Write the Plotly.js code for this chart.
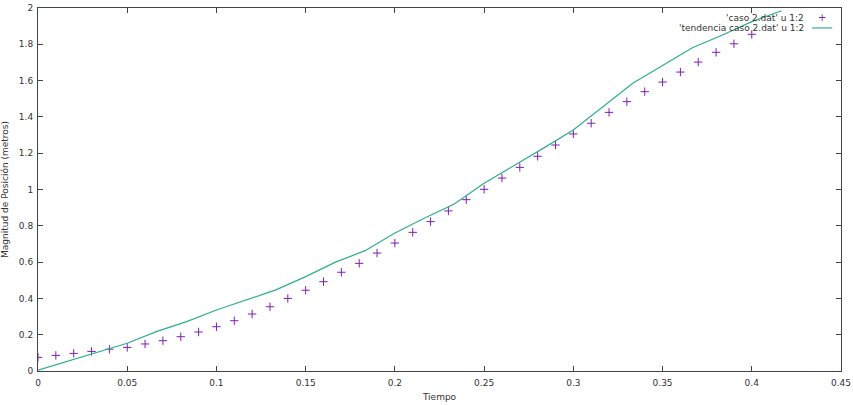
<!DOCTYPE html>
<html>
<head>
<meta charset="utf-8">
<script src="https://cdn.plot.ly/plotly-3.0.1.min.js"></script>
<style>html,body{margin:0;padding:0;background:#fff;}#chart{width:853px;height:405px;}</style>
</head>
<body>
<div id="chart"></div>
<script>
// Measured data: 'caso 2.dat'
const tiempo = [0, 0.01, 0.02, 0.03, 0.04, 0.05, 0.06, 0.07, 0.08, 0.09,
  0.10, 0.11, 0.12, 0.13, 0.14, 0.15, 0.16, 0.17, 0.18, 0.19,
  0.20, 0.21, 0.22, 0.23, 0.24, 0.25, 0.26, 0.27, 0.28, 0.29,
  0.30, 0.31, 0.32, 0.33, 0.34, 0.35, 0.36, 0.37, 0.38, 0.39, 0.40];
const posicion = [0.075, 0.086, 0.097, 0.108, 0.12, 0.13, 0.149, 0.167, 0.189, 0.215,
  0.244, 0.277, 0.314, 0.354, 0.40, 0.445, 0.492, 0.544, 0.593, 0.65,
  0.705, 0.764, 0.823, 0.882, 0.944, 1.001, 1.063, 1.122, 1.183, 1.245,
  1.306, 1.365, 1.425, 1.484, 1.539, 1.592, 1.647, 1.702, 1.756, 1.803, 1.855];

// Trend line: 'tendencia caso 2.dat'
const tendTiempo = [0, 0.0167, 0.0333, 0.05, 0.0667, 0.0833, 0.1, 0.1167, 0.1333, 0.15,
  0.1667, 0.1833, 0.2, 0.2167, 0.2333, 0.25, 0.2667, 0.2833, 0.3, 0.3167,
  0.3333, 0.35, 0.3667, 0.3833, 0.4, 0.4167];
const tendPosicion = [0.005, 0.055, 0.105, 0.153, 0.218, 0.272, 0.336, 0.39, 0.447, 0.52,
  0.6, 0.663, 0.76, 0.843, 0.92, 1.034, 1.13, 1.228, 1.328, 1.455,
  1.585, 1.683, 1.781, 1.85, 1.925, 1.985];

const xTicks = [0, 0.05, 0.1, 0.15, 0.2, 0.25, 0.3, 0.35, 0.4, 0.45];
const xTickText = ['0', '0.05', '0.1', '0.15', '0.2', '0.25', '0.3', '0.35', '0.4', '0.45'];
const yTicks = [0, 0.2, 0.4, 0.6, 0.8, 1, 1.2, 1.4, 1.6, 1.8, 2];
const yTickText = ['0', '0.2', '0.4', '0.6', '0.8', '1', '1.2', '1.4', '1.6', '1.8', '2'];

const legendPuntos = "'caso 2.dat' u 1:2";
const legendLinea = "'tendencia caso 2.dat' u 1:2";

const colorPuntos = '#7d1fb5';
const colorLinea = '#2fae8e';
const font = 'DejaVu Sans, Verdana, sans-serif';

const traces = [
  {
    x: tiempo, y: posicion, type: 'scatter', mode: 'markers', name: legendPuntos,
    marker: {symbol: 'cross-thin-open', size: 6, color: colorPuntos, line: {color: colorPuntos, width: 1}},
    cliponaxis: true, hoverinfo: 'skip'
  },
  {
    x: tendTiempo, y: tendPosicion, type: 'scatter', mode: 'lines', name: legendLinea,
    line: {color: colorLinea, width: 1.2}, hoverinfo: 'skip'
  }
];

const axisCommon = {
  showline: true, linecolor: '#444', linewidth: 1, mirror: 'ticks',
  ticks: 'inside', ticklen: 5, tickcolor: '#444', tickwidth: 1,
  showgrid: false, zeroline: false,
  tickfont: {family: font, size: 9, color: '#333'}
};

const layout = {
  width: 853, height: 405,
  margin: {l: 38, r: 12, t: 8, b: 34},
  paper_bgcolor: '#fff', plot_bgcolor: '#fff',
  showlegend: false,
  xaxis: Object.assign({}, axisCommon, {
    range: [0, 0.45], tickmode: 'array', tickvals: xTicks, ticktext: xTickText,
    ticklabelstandoff: 3,
    title: {text: 'Tiempo', font: {family: font, size: 9, color: '#333'}, standoff: 6}
  }),
  yaxis: Object.assign({}, axisCommon, {
    range: [0, 2], tickmode: 'array', tickvals: yTicks, ticktext: yTickText,
    ticklabelstandoff: 2,
    title: {text: 'Magnitud de Posición (metros)', font: {family: font, size: 9, color: '#333'}, standoff: 8}
  }),
  annotations: [
    {xref: 'paper', yref: 'paper', x: 0.956, y: 0.972, xanchor: 'right', yanchor: 'middle',
     text: legendPuntos, showarrow: false, font: {family: font, size: 9, color: '#333'}},
    {xref: 'paper', yref: 'paper', x: 0.956, y: 0.945, xanchor: 'right', yanchor: 'middle',
     text: legendLinea, showarrow: false, font: {family: font, size: 9, color: '#333'}},
    {xref: 'paper', yref: 'paper', x: 0.976, y: 0.974, xanchor: 'center', yanchor: 'middle',
     text: '+', showarrow: false, font: {family: font, size: 10, color: colorPuntos}}
  ],
  shapes: [
    {type: 'line', xref: 'paper', yref: 'paper', x0: 0.964, x1: 0.989, y0: 0.945, y1: 0.945,
     line: {color: colorLinea, width: 1.2}}
  ]
};

Plotly.newPlot('chart', traces, layout, {staticPlot: true, displayModeBar: false});
</script>
</body>
</html>
